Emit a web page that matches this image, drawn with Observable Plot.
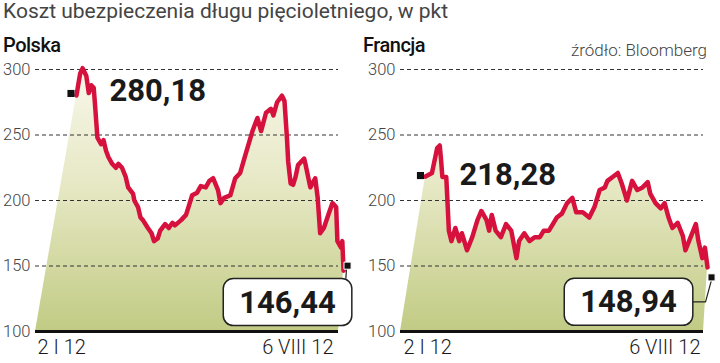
<!DOCTYPE html>
<html><head><meta charset="utf-8">
<script src="https://cdn.jsdelivr.net/npm/d3@7"></script>
<script src="https://cdn.jsdelivr.net/npm/@observablehq/plot@0.6"></script>
<style>
body{margin:0;width:720px;height:363px;overflow:hidden;background:#fff;font-family:Roboto,sans-serif;}
#title{height:26px;font-size:21px;line-height:23px;color:#444;padding-left:3px;white-space:nowrap;}
.row{display:flex;}
.panel{width:360px;}
.head{height:30px;position:relative;}
.name{position:absolute;left:3px;top:8px;font-size:20px;line-height:22px;font-weight:500;letter-spacing:-0.5px;color:#111;}
.src{position:absolute;right:13px;top:16px;font-size:17px;line-height:17px;font-weight:300;color:#444;white-space:nowrap;}
svg{display:block;overflow:visible}
</style></head>
<body>
<div id="title"></div>
<div class="row"><div class="panel" id="p0"></div><div class="panel" id="p1"></div></div>
<script>
const title = "Koszt ubezpieczenia długu pięcioletniego, w pkt";
const source = "źródło: Bloomberg";
const countries = ["Polska", "Francja"];
const xTickLabels = ["2 I 12", "6 VIII 12"];
const yTicks = [100, 150, 200, 250, 300];

// days counted from 2 I 2012
const daysPL = [0,3,5,8,10,12,14,15,17,20,22,24,26,29,32,34,37,40,42,46,47,50,52,54,58,61,63,66,68,72,75,78,80,85,89,91,94,98,101,105,108,111,115,117,120,125,129,133,137,143,147,150,154,158,160,163,167,169,171,172,174,176,178,180,185,186,190,194,196,198,201,205,208,211,212,215,216,217];
const valuesPL = [280.18,297,301,295,282,288,286,274,248,243,246,238,233,228,225,228,225,218,210,205,200,195,187,185,179,175,169,171,177,182,179,183,181,185,189,195,204,206,211,210,215,217,208,198,202,204,217,221,234,253,263,253,267,270,265,275,280,276,248,230,213,212,218,227,232,228,210,217,202,175,179,190,198,195,169,164,169,146.44];

const daysFR = [0,5,9,11,12,13,16,17,18,20,23,26,28,32,36,40,43,47,49,51,54,58,62,66,70,72,76,80,84,88,91,95,101,105,109,113,116,121,126,130,134,138,140,144,148,151,155,159,163,167,171,173,177,181,184,187,190,194,198,200,204,208,210,213,215,217];
const valuesFR = [218.28,221,240,242,231,218,218,198,177,169,179,169,175,162,172,185,192,185,177,189,177,172,182,177,156,169,175,169,172,172,177,177,187,190,198,202,191,191,187,195,208,210,215,218,221,213,200,215,208,210,214,205,198,194,198,187,179,183,173,162,172,182,169,156,164,148.94];

document.getElementById("title").textContent = title;

const fmt = v => v.toFixed(2).replace(".", ",");

const cfgs = [
  {ml: 35, mr: 22, xDomain: [-33.3, 212.9], firstMarker: [-5.5, -2], lastMarker: [4, -5], firstText: [33, -4], lastText: [-56, 32], lab0dx: 2, lab1dx: -5, link: "up"},
  {ml: 40, mr: 17, xDomain: [-19.2, 213.9], firstMarker: [-5, -1], lastMarker: [4, 10], firstText: [34, -1], lastText: [-79, 35], lab0dx: 3, lab1dx: -3, link: "side"}
];

function panel(i, days, values, cfg) {
  const host = document.getElementById("p" + i);
  const head = document.createElement("div");
  head.className = "head";
  const nm = document.createElement("div");
  nm.className = "name"; nm.textContent = countries[i];
  head.appendChild(nm);
  if (i === 1) { const s = document.createElement("div"); s.className = "src"; s.textContent = source; head.appendChild(s); }
  host.appendChild(head);

  const data = days.map((d, j) => ({d, v: values[j]}));
  const first = data[0], last = data[data.length - 1];
  const base = yTicks[0];
  const areaData = [{d: cfg.xDomain[0], v: base}, ...data, {d: cfg.xDomain[1], v: base}];
  const gid = "grad" + i;
  const big = {fontFamily: "Roboto, sans-serif", fontSize: 31, fontWeight: 700, fill: "#1a1a1a"};
  const lab = {fontFamily: "Roboto, sans-serif", fontSize: 20, fill: "#1a1a1a", frameAnchor: "bottom", lineAnchor: "top", dy: 8};

  const chart = Plot.plot({
    width: 360, height: 307,
    marginTop: 13, marginBottom: 32, marginLeft: cfg.ml, marginRight: cfg.mr,
    style: {fontFamily: "Roboto, sans-serif", fontSize: "16.5px", fontWeight: 300, color: "#444", background: "transparent", overflow: "visible"},
    x: {domain: cfg.xDomain, axis: null},
    y: {domain: [yTicks[0], yTicks[yTicks.length - 1]], ticks: yTicks, tickSize: 0, tickPadding: 5, label: null, tickFormat: d => String(d)},
    marks: [
      Plot.areaY(areaData, {x: "d", y1: () => base, y2: "v", fill: `url(#${gid})`}),
      Plot.ruleY(yTicks.slice(1), {stroke: "#333", strokeDasharray: "4,3", strokeWidth: 1}),
      Plot.ruleY([base], {stroke: "#111", strokeWidth: 3}),
      Plot.line(data, {x: "d", y: "v", stroke: "#d6113d", strokeWidth: 4.5, strokeLinejoin: "round", strokeLinecap: "round"}),
      Plot.dot([first], {x: "d", y: "v", symbol: "square", r: 4, fill: "#111", dx: cfg.firstMarker[0], dy: cfg.firstMarker[1]}),
      Plot.dot([last], {x: "d", y: "v", symbol: "square", r: 4, fill: "#111", stroke: "#fff", strokeWidth: 1, dx: cfg.lastMarker[0], dy: cfg.lastMarker[1], ariaDescription: "last-marker"}),
      Plot.text([first], {x: "d", y: "v", text: d => fmt(d.v), textAnchor: "start", dx: cfg.firstText[0], dy: cfg.firstText[1], ...big}),
      Plot.text([last], {x: "d", y: "v", text: d => fmt(d.v), textAnchor: "middle", dx: cfg.lastText[0], dy: cfg.lastText[1], ...big, ariaDescription: "last-value"}),
      Plot.text([xTickLabels[0]], {text: d => d, ...lab, frameAnchor: "bottom-left", textAnchor: "start", dx: cfg.lab0dx}),
      Plot.text([xTickLabels[1]], {text: d => d, ...lab, frameAnchor: "bottom-right", textAnchor: "end", dx: cfg.lab1dx})
    ]
  });
  host.appendChild(chart);

  const svg = d3.select(chart);
  const yr = chart.scale("y").range;
  const defs = svg.insert("defs", ":first-child");
  const g = defs.append("linearGradient").attr("id", gid).attr("gradientUnits", "userSpaceOnUse")
    .attr("x1", 0).attr("x2", 0).attr("y1", Math.min(...yr)).attr("y2", Math.max(...yr));
  g.append("stop").attr("offset", 0).attr("stop-color", "#f8f7ea");
  g.append("stop").attr("offset", 0.45).attr("stop-color", "#e6e8c4");
  g.append("stop").attr("offset", 1).attr("stop-color", "#c2cb84");

  const tg = svg.select('g[aria-description="last-value"]').node();
  const mg = svg.select('g[aria-description="last-marker"]').node();
  if (!tg || !mg) return;
  // rounded box round the last value, in the text's own coordinates
  const t = tg.querySelector("text");
  const bb = t.getBBox();
  const padX = 16, padY = 5;
  const rect = d3.select(t.parentNode).insert("rect", "text")
    .attr("x", bb.x - padX).attr("y", bb.y - padY)
    .attr("width", bb.width + 2 * padX).attr("height", bb.height + 2 * padY)
    .attr("rx", 10).attr("fill", "#fff").attr("stroke", "#222").attr("stroke-width", 1.5);
  if (t.getAttribute("transform")) rect.attr("transform", t.getAttribute("transform"));

  // connector from box to the last marker
  const sr = chart.getBoundingClientRect();
  const box = rect.node().getBoundingClientRect();
  const mk = mg.querySelector("path").getBoundingClientRect();
  const mx = (mk.left + mk.right) / 2 - sr.left, mb = mk.bottom - sr.top - 1;
  const bR = box.right - sr.left, bT = box.top - sr.top, bM = (box.top + box.bottom) / 2 - sr.top;
  const p = d3.path();
  if (cfg.link === "side") { p.moveTo(bR, bM); p.lineTo(mx - 6, bM); p.lineTo(mx, mb); }
  else { p.moveTo(bR - 6, bT); p.lineTo(mx - 1, mb); }
  svg.append("path").attr("d", p.toString()).attr("fill", "none").attr("stroke", "#222").attr("stroke-width", 1.2);
  svg.node().appendChild(mg);
}

panel(0, daysPL, valuesPL, cfgs[0]);
panel(1, daysFR, valuesFR, cfgs[1]);
</script>
</body></html>
